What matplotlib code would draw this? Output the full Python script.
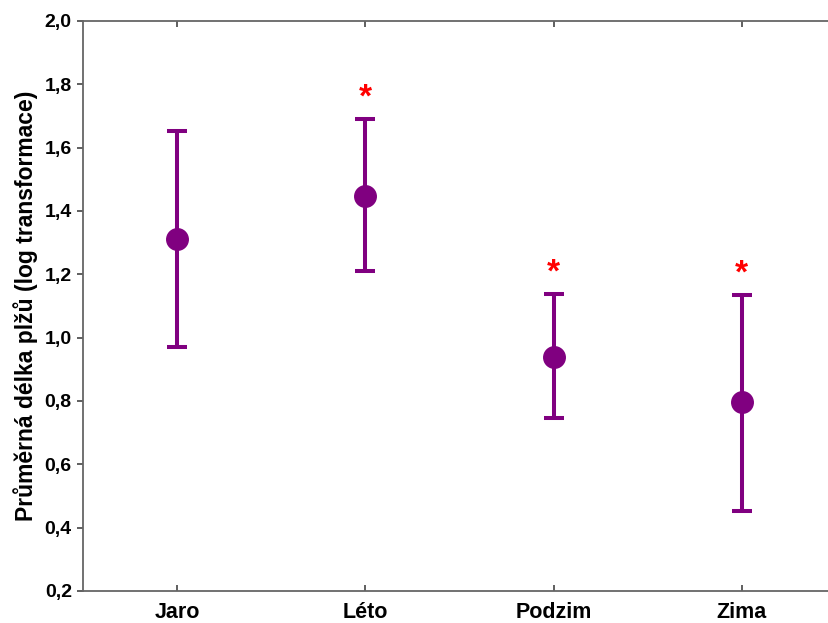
import matplotlib
matplotlib.use('Agg')
import matplotlib.pyplot as plt

# Data
seasons = ['Jaro', 'Léto', 'Podzim', 'Zima']
means = [1.312, 1.447, 0.939, 0.797]
upper = [1.653, 1.691, 1.138, 1.135]
lower = [0.971, 1.211, 0.746, 0.453]
significant = [False, True, True, True]

purple = '#800080'

plt.rcParams['font.family'] = ['Liberation Sans', 'DejaVu Sans']
plt.rcParams['font.weight'] = 'bold'

fig = plt.figure(figsize=(8.29, 6.23), dpi=100)
# the right side of the frame runs off the picture, as in the reference
ax = fig.add_axes([0.1001, 0.0514, 0.9083, 0.915])

x = list(range(len(seasons)))
err_lo = [m - l for m, l in zip(means, lower)]
err_hi = [u - m for m, u in zip(means, upper)]

ax.errorbar(x, means, yerr=[err_lo, err_hi], fmt='o', color=purple,
            ecolor=purple, markersize=15.5, elinewidth=2.9,
            capsize=7.2, capthick=2.9, zorder=3)

# hvezdicky nad vyznamnymi sezonami
for xi, u, s in zip(x, upper, significant):
    if s:
        ax.text(xi, u + 0.065, '*', color='red', fontsize=24,
                fontweight='bold', ha='center', va='center')

ax.set_xlim(-0.5, 3.5)
ax.set_ylim(0.2, 2.0)
ax.set_xticks(x)
ax.set_xticklabels(seasons, fontsize=15.5, fontweight='bold')
yt = [0.2, 0.4, 0.6, 0.8, 1.0, 1.2, 1.4, 1.6, 1.8, 2.0]
ax.set_yticks(yt)
ax.set_yticklabels([('%.1f' % v).replace('.', ',') for v in yt],
                   fontsize=14, fontweight='bold')
ax.set_ylabel('Průměrná délka plžů (log transformace)', fontsize=16.5,
              fontweight='bold', labelpad=5)

for sp in ax.spines.values():
    sp.set_color('#666666')
    sp.set_linewidth(1.3)
ax.tick_params(axis='x', direction='in', length=4, width=1.2,
               color='#444444', top=True, pad=8)
ax.tick_params(axis='y', direction='out', length=4, width=1.2,
               color='#444444', pad=4)

fig.savefig('out.png', dpi=100)
